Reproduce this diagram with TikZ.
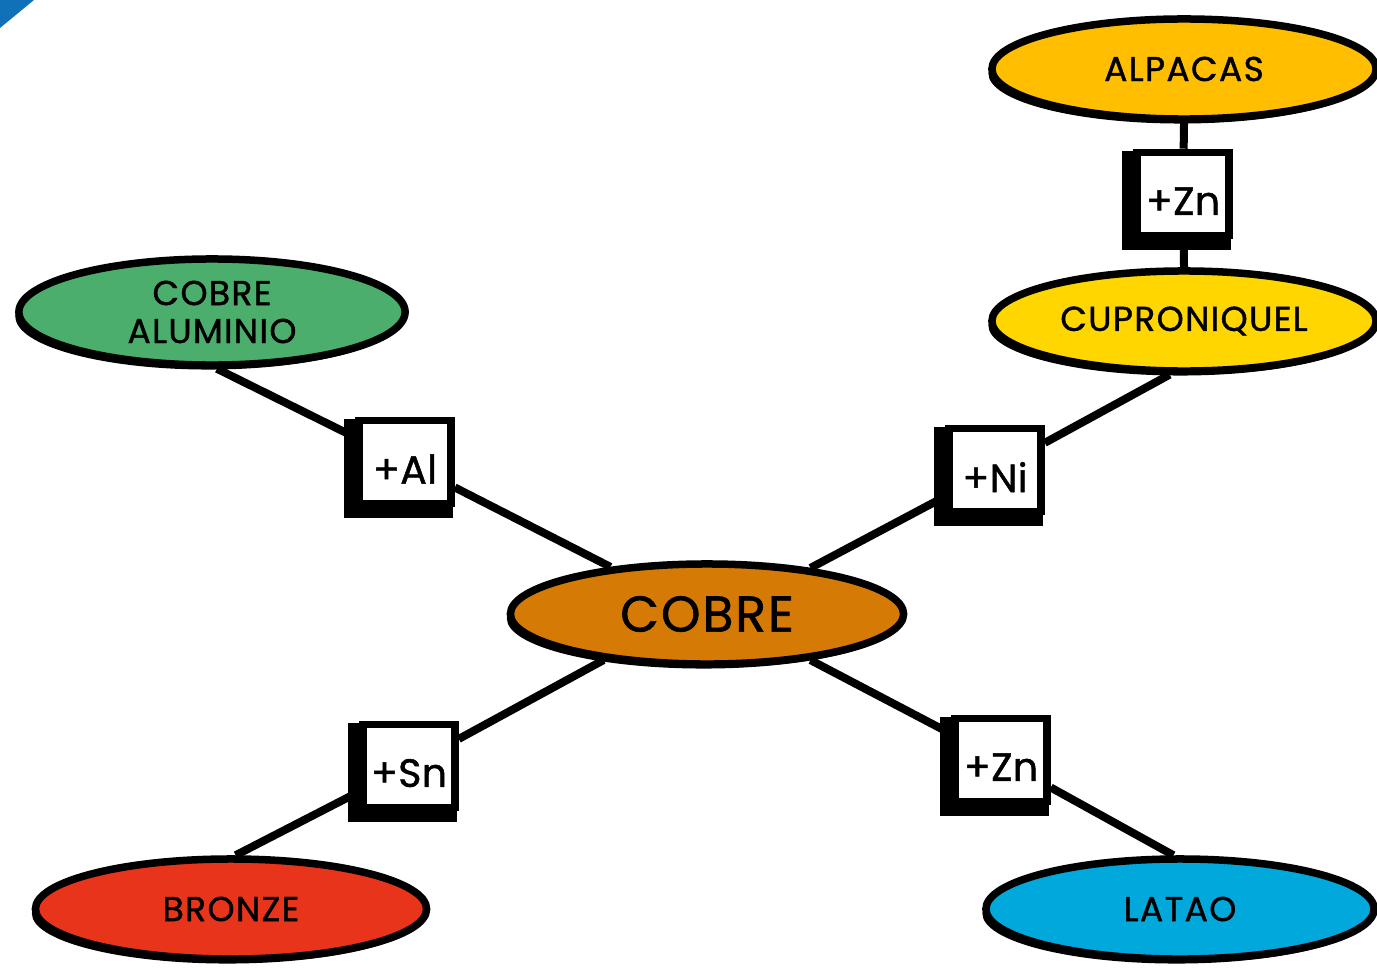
\documentclass[tikz,border=0pt]{standalone}
\usepackage{fontspec}
\setmainfont{Poppins}[FakeBold=1.2,LetterSpace=4]
\newfontfamily\boxfont{Poppins}[FakeBold=1.2,LetterSpace=1]
\usetikzlibrary{shapes.geometric,shadows,backgrounds}

\definecolor{alpacaorange}{RGB}{255,190,0}
\definecolor{cuproyellow}{RGB}{255,214,0}
\definecolor{alumgreen}{RGB}{75,174,108}
\definecolor{cobreorange}{RGB}{214,122,6}
\definecolor{bronzered}{RGB}{232,52,26}
\definecolor{lataoblue}{RGB}{0,168,220}
\definecolor{cornerblue}{RGB}{16,112,184}

\newcommand\boxtxt[1]{\raisebox{-2pt}[\height][\depth]{#1}}

\begin{document}
\begin{tikzpicture}[x=0.01cm,y=-0.01cm,
   metal/.style={ellipse,draw=black,line width=0.075cm,inner sep=0pt,
      minimum width=3.86cm,minimum height=1.00cm,align=center,
      font=\fontsize{9.8}{10.8}\selectfont,
      general shadow={fill=black,shadow xshift=-0.035cm,shadow yshift=-0.045cm}},
   addbox/.style={rectangle,draw=black,fill=white,line width=0.075cm,inner sep=0pt,
      minimum width=0.92cm,minimum height=0.83cm,
      font=\boxfont\fontsize{11.2}{12}\selectfont},
   boxshadow/.style={fill=black},
   link/.style={line width=0.08cm}]

\useasboundingbox (0,0) rectangle (1377,970);
\fill[cornerblue] (0,0) -- (34,0) -- (0,28) -- cycle;

% alloys
\node[metal,fill=alpacaorange,minimum width=3.84cm] (alpacas) at (1184,69) {ALPACAS};
\node[metal,fill=cuproyellow,minimum width=3.84cm] (cupro) at (1184,321) {CUPRONIQUEL};
\node[metal,fill=alumgreen,minimum height=1.06cm] (alum) at (212,312) {COBRE\\ALUMINIO};
\node[metal,fill=cobreorange,minimum width=3.93cm,font=\fontsize{14.3}{15}\selectfont] (cobre) at (707,614) {COBRE};
\node[metal,fill=bronzered,minimum width=3.91cm] (bronze) at (231,909) {BRONZE};
\node[metal,fill=lataoblue,minimum width=3.88cm] (latao) at (1180,909) {LATAO};

% added elements
\node[addbox] (zn1) at (1183,194) {\boxtxt{+Zn}};
\node[addbox] (al) at (405,462) {\boxtxt{+Al}};
\node[addbox] (ni) at (995,470) {\boxtxt{+Ni}};
\node[addbox] (sn) at (409,766) {\boxtxt{+Sn}};
\node[addbox] (zn2) at (1001,760) {\boxtxt{+Zn}};

\begin{scope}[on background layer]
\draw[link] (alpacas.south) -- (zn1) -- (cupro.north);
\draw[link] (alum.-85) -- (al) -- (cobre.154);
\draw[link] (cobre.24) -- (ni) -- (cupro.-105);
\draw[link] (cobre.204) -- (sn) -- (bronze.85);
\draw[link] (cobre.-24) -- (zn2) -- (latao.97);
% thick left and bottom edges of the boxes
\foreach \b in {zn1,al,ni,sn,zn2}
  \fill[boxshadow] ([xshift=-0.11cm,yshift=-0.02cm]\b.north west) rectangle ([xshift=-0.02cm,yshift=-0.11cm]\b.south east);
\end{scope}

\end{tikzpicture}
\end{document}
